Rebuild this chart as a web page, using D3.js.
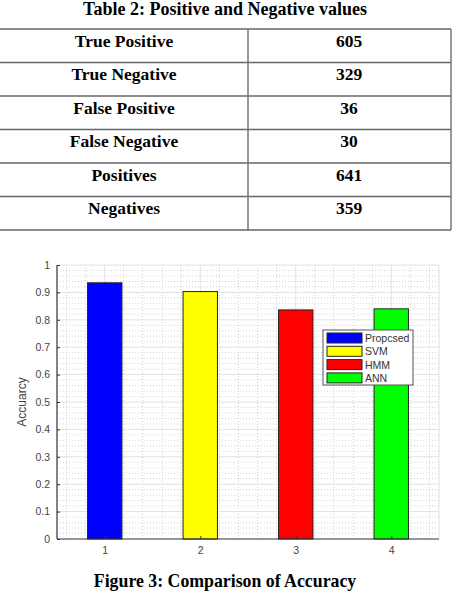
<!DOCTYPE html>
<html>
<head>
<meta charset="utf-8">
<script src="https://cdn.jsdelivr.net/npm/d3@7"></script>
<style>
  body { margin: 0; background: #fff; }
  svg { display: block; }
</style>
</head>
<body>
<div id="chart"></div>
<script>
// table data
const tableTitle = "Table 2: Positive and Negative values";
const rowLabels = ["True Positive", "True Negative", "False Positive", "False Negative", "Positives", "Negatives"];
const rowValues = [605, 329, 36, 30, 641, 359];

// chart data
const methods = ["Propcsed", "SVM", "HMM", "ANN"];
const xTicks = [1, 2, 3, 4];
const accuracy = [0.935, 0.903, 0.836, 0.840];
const barColors = ["#0000ff", "#ffff00", "#ff0000", "#00ff00"];
const yTicks = [0, 0.1, 0.2, 0.3, 0.4, 0.5, 0.6, 0.7, 0.8, 0.9, 1];
const caption = "Figure 3: Comparison of Accuracy";

const W = 453, H = 593;
const svg = d3.select("#chart").append("svg")
    .attr("width", W)
    .attr("height", H);

// ---- table ----
const serif = "'Liberation Serif', 'Times New Roman', serif";
svg.append("text")
    .attr("x", 225)
    .attr("y", 15)
    .attr("text-anchor", "middle")
    .style("font-family", serif)
    .style("font-weight", "bold")
    .style("font-size", "18px")
    .text(tableTitle);

const tbl = { left: 0, right: 451, top: 29, rowH: 33.5, mid: 248 };
const rowY = d3.scaleLinear()
    .domain([0, rowLabels.length])
    .range([tbl.top, tbl.top + tbl.rowH * rowLabels.length]);

const tg = svg.append("g").attr("class", "table");

tg.selectAll(".hline")
    .data(d3.range(rowLabels.length + 1))
    .enter().append("line")
    .attr("x1", tbl.left).attr("x2", tbl.right)
    .attr("y1", d => rowY(d)).attr("y2", d => rowY(d))
    .attr("stroke", "#666").attr("stroke-width", 1.5);

[tbl.mid, tbl.right].forEach(x => {
    tg.append("line")
        .attr("x1", x).attr("x2", x)
        .attr("y1", rowY(0)).attr("y2", rowY(rowLabels.length))
        .attr("stroke", "#777").attr("stroke-width", 1.5);
});

tg.selectAll(".lbl")
    .data(rowLabels)
    .enter().append("text")
    .attr("x", 124)
    .attr("y", (d, i) => rowY(i) + 17.5)
    .attr("text-anchor", "middle")
    .style("font-family", serif)
    .style("font-weight", "bold")
    .style("font-size", "17.5px")
    .text(d => d);

tg.selectAll(".val")
    .data(rowValues)
    .enter().append("text")
    .attr("x", 349)
    .attr("y", (d, i) => rowY(i) + 17.5)
    .attr("text-anchor", "middle")
    .style("font-family", serif)
    .style("font-weight", "bold")
    .style("font-size", "17.5px")
    .text(d => d);

// ---- bar chart ----
const plot = { left: 57, right: 439, top: 265, bottom: 539 };
const x = d3.scaleLinear().domain([0.5, 4.5]).range([plot.left, plot.right]);
const y = d3.scaleLinear().domain([0, 1]).range([plot.bottom, plot.top]);
const barW = x(0.36) - x(0);

const g = svg.append("g").attr("class", "plot");

// minor dotted grid
g.selectAll(".minor-y")
    .data(d3.range(0, 1.0001, 0.02).filter(v => Math.abs(v * 10 - Math.round(v * 10)) > 1e-6))
    .enter().append("line")
    .attr("x1", plot.left).attr("x2", plot.right)
    .attr("y1", d => y(d)).attr("y2", d => y(d))
    .attr("stroke", "#c8c8c8").attr("stroke-width", 0.8)
    .attr("stroke-dasharray", "1,2");

g.selectAll(".minor-x")
    .data(d3.range(0.6, 4.45, 0.2).filter(v => Math.abs(v - Math.round(v)) > 1e-6))
    .enter().append("line")
    .attr("x1", d => x(d)).attr("x2", d => x(d))
    .attr("y1", plot.top).attr("y2", plot.bottom)
    .attr("stroke", "#c8c8c8").attr("stroke-width", 0.8)
    .attr("stroke-dasharray", "1,2");

// major grid
g.selectAll(".major-y")
    .data(yTicks.slice(1))
    .enter().append("line")
    .attr("x1", plot.left).attr("x2", plot.right)
    .attr("y1", d => y(d)).attr("y2", d => y(d))
    .attr("stroke", "#e2e2e2").attr("stroke-width", 1);

g.selectAll(".major-x")
    .data(xTicks.concat([4.5]))
    .enter().append("line")
    .attr("x1", d => x(d)).attr("x2", d => x(d))
    .attr("y1", plot.top).attr("y2", plot.bottom)
    .attr("stroke", "#e2e2e2").attr("stroke-width", 1);

// bars
g.selectAll(".bar")
    .data(accuracy)
    .enter().append("rect")
    .attr("class", "bar")
    .attr("x", (d, i) => x(xTicks[i]) - barW / 2)
    .attr("y", d => y(d))
    .attr("width", barW)
    .attr("height", d => y(0) - y(d))
    .attr("fill", (d, i) => barColors[i])
    .attr("stroke", "#222")
    .attr("stroke-width", 1);

// axes
const tickFont = "'Liberation Sans', Arial, sans-serif";
const yAxis = g.append("g")
    .attr("transform", `translate(${plot.left},0)`)
    .call(d3.axisLeft(y).tickValues(yTicks).tickSize(-3).tickPadding(7)
        .tickFormat(d => d3.format("~g")(d)));
const xAxis = g.append("g")
    .attr("transform", `translate(0,${plot.bottom})`)
    .call(d3.axisBottom(x).tickValues(xTicks).tickSize(-3).tickPadding(8)
        .tickFormat(d3.format("d")));

[xAxis, yAxis].forEach(a => {
    a.select(".domain").attr("stroke", "#333").attr("stroke-width", 1.2);
    a.selectAll(".tick line").attr("stroke", "#333");
    a.selectAll(".tick text")
        .style("font-family", tickFont)
        .style("font-size", "10.5px")
        .attr("fill", "#444");
});
yAxis.select(".domain").attr("d", `M0,${plot.top}V${plot.bottom}`);
xAxis.select(".domain").attr("d", `M${plot.left},0H${plot.right}`);

svg.append("text")
    .attr("transform", `translate(26,${(plot.top + plot.bottom) / 2}) rotate(-90)`)
    .attr("text-anchor", "middle")
    .style("font-family", tickFont)
    .style("font-size", "12px")
    .attr("fill", "#444")
    .text("Accuarcy");

// legend
const leg = svg.append("g").attr("transform", "translate(323,330)");
leg.append("rect")
    .attr("width", 90).attr("height", 55)
    .attr("fill", "#fff").attr("stroke", "#555").attr("stroke-width", 1);
const items = leg.selectAll(".item")
    .data(methods)
    .enter().append("g")
    .attr("transform", (d, i) => `translate(4,${3 + i * 13.3})`);
items.append("rect")
    .attr("width", 35).attr("height", 10)
    .attr("fill", (d, i) => barColors[i])
    .attr("stroke", "#222").attr("stroke-width", 1);
items.append("text")
    .attr("x", 38).attr("y", 9)
    .style("font-family", tickFont)
    .style("font-size", "10.5px")
    .attr("fill", "#333")
    .text(d => d);

// caption
svg.append("text")
    .attr("x", 225)
    .attr("y", 587)
    .attr("text-anchor", "middle")
    .style("font-family", serif)
    .style("font-weight", "bold")
    .style("font-size", "17.8px")
    .text(caption);
</script>
</body>
</html>
